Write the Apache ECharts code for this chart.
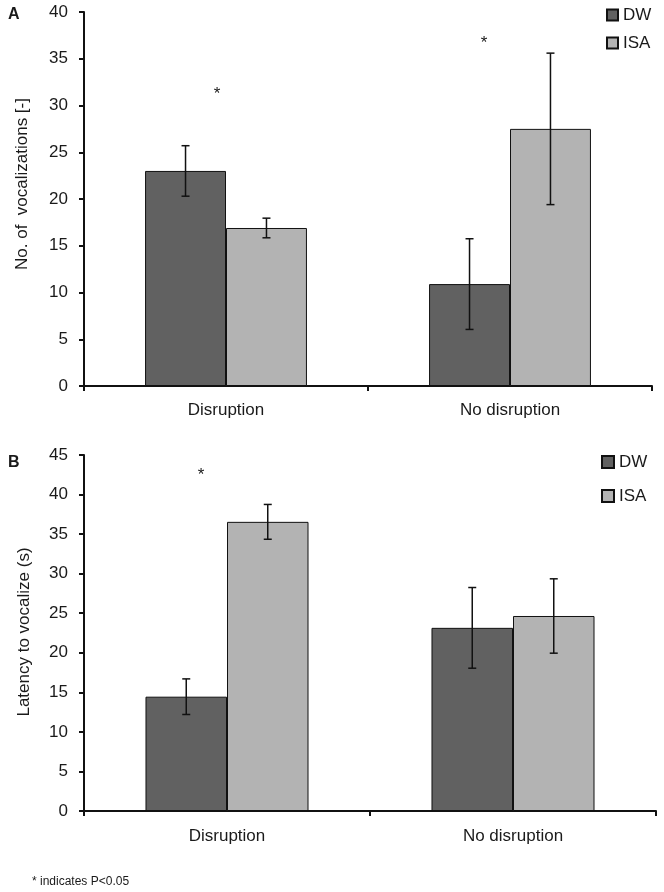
<!DOCTYPE html>
<html>
<head>
<meta charset="utf-8">
<script src="https://cdn.jsdelivr.net/npm/echarts@6/dist/echarts.min.js"></script>
<style>html,body{margin:0;padding:0;background:#fff;}#c{width:664px;height:892px;}</style>
</head>
<body>
<div id="c"></div>
<script>
// ---- data ----
var categories = ['Disruption', 'No disruption'];
var seriesNames = ['DW', 'ISA'];
// Panel A: No. of vocalizations
var vocDW = [23.0, 10.9];
var vocDWerr = [2.7, 4.85];
var vocISA = [16.9, 27.5];
var vocISAerr = [1.05, 8.1];
var vocSig = [[0, 31.2], [1, 36.6]];
var yTicksA = [0, 5, 10, 15, 20, 25, 30, 35, 40];
// Panel B: Latency to vocalize (s)
var latDW = [14.45, 23.15];
var latDWerr = [2.25, 5.1];
var latISA = [36.55, 24.65];
var latISAerr = [2.2, 4.7];
var latSig = [[0, 42.4]];
var yTicksB = [0, 5, 10, 15, 20, 25, 30, 35, 40, 45];

// ---- styles ----
var FONT = 'Liberation Sans, Arial, sans-serif';
var TXT = '#1a1a1a';
var DWC = '#616161', ISAC = '#b3b3b3';
var GAP = 0.43;
var sigDxA = [-9, -26], sigDxB = [-26];

var chart = echarts.init(document.getElementById('c'), null, {renderer: 'canvas'});

function errSeries(name, vals, errs, side, xi, yi) {
  var d = vals.map(function (v, i) { return [i, v - errs[i], v + errs[i]]; });
  return {
    type: 'custom', name: name + '_err', xAxisIndex: xi, yAxisIndex: yi, z: 5,
    data: d, silent: true, legendHoverLink: false,
    renderItem: function (params, api) {
      var band = api.size([1, 0])[0];
      var bw = band * (1 - GAP) / 2;
      var lo = api.coord([api.value(0), api.value(1)]);
      var hi = api.coord([api.value(0), api.value(2)]);
      var x = lo[0] + side * bw / 2;
      var cap = 4;
      var st = {stroke: '#111', lineWidth: 1.5};
      return {type: 'group', children: [
        {type: 'line', shape: {x1: x, y1: lo[1], x2: x, y2: hi[1]}, style: st},
        {type: 'line', shape: {x1: x - cap, y1: lo[1], x2: x + cap, y2: lo[1]}, style: st},
        {type: 'line', shape: {x1: x - cap, y1: hi[1], x2: x + cap, y2: hi[1]}, style: st}
      ]};
    }
  };
}
function sigSeries(d, dx, xi, yi) {
  return {
    type: 'custom', xAxisIndex: xi, yAxisIndex: yi, data: d, silent: true, z: 6,
    renderItem: function (params, api) {
      var p = api.coord([api.value(0), api.value(1)]);
      return {type: 'text', x: p[0] + dx[params.dataIndex], y: p[1],
        style: {text: '*', font: '17px ' + FONT, fill: TXT, align: 'center', verticalAlign: 'middle'}};
    }
  };
}
function barSeries(name, vals, color, xi, yi) {
  return {
    type: 'bar', name: name, xAxisIndex: xi, yAxisIndex: yi, data: vals,
    barGap: '0%', barCategoryGap: (GAP * 100) + '%',
    itemStyle: {color: color, borderColor: '#111', borderWidth: 1},
    emphasis: {disabled: true}
  };
}
function xAx(gi) {
  return {
    type: 'category', gridIndex: gi, data: categories, boundaryGap: true,
    axisLine: {lineStyle: {color: '#111', width: 2}},
    axisTick: {show: true, length: 5, lineStyle: {color: '#111', width: 2}},
    axisLabel: {color: TXT, fontSize: 17, fontFamily: FONT, margin: gi === 0 ? 16 : 17}
  };
}
function yAx(gi, ticks) {
  return {
    type: 'value', gridIndex: gi, min: ticks[0], max: ticks[ticks.length - 1], interval: ticks[1] - ticks[0],
    axisLine: {show: true, lineStyle: {color: '#111', width: 2}},
    axisTick: {show: true, length: 5, lineStyle: {color: '#111', width: 2}},
    splitLine: {show: false},
    axisLabel: {color: TXT, fontSize: 17, fontFamily: FONT, margin: 16}
  };
}

chart.setOption({
  backgroundColor: '#fff',
  animation: false,
  grid: [
    {left: 84, right: 12, top: 12, bottom: 506},
    {left: 84, right: 8, top: 455, bottom: 81}
  ],
  xAxis: [xAx(0), xAx(1)],
  yAxis: [yAx(0, yTicksA), yAx(1, yTicksB)],
  legend: [
    {data: seriesNames, orient: 'vertical', left: 601, top: 1.5, itemWidth: 11, itemHeight: 11, itemGap: 11,
     icon: 'rect', textStyle: {color: TXT, fontSize: 17, fontFamily: FONT}, selectedMode: false},
    {data: seriesNames, orient: 'vertical', left: 596, top: 448.5, itemWidth: 12, itemHeight: 12, itemGap: 17,
     icon: 'rect', textStyle: {color: TXT, fontSize: 17, fontFamily: FONT}, selectedMode: false}
  ],
  series: [
    barSeries('DW', vocDW, DWC, 0, 0),
    barSeries('ISA', vocISA, ISAC, 0, 0),
    barSeries('DW', latDW, DWC, 1, 1),
    barSeries('ISA', latISA, ISAC, 1, 1),
    errSeries('DW', vocDW, vocDWerr, -1, 0, 0),
    errSeries('ISA', vocISA, vocISAerr, 1, 0, 0),
    errSeries('DW', latDW, latDWerr, -1, 1, 1),
    errSeries('ISA', latISA, latISAerr, 1, 1, 1),
    sigSeries(vocSig, sigDxA, 0, 0),
    sigSeries(latSig, sigDxB, 1, 1)
  ],
  graphic: [
    {type: 'text', left: 8, top: 7, style: {text: 'A', font: 'bold 16px ' + FONT, fill: TXT}},
    {type: 'text', left: 8, top: 455, style: {text: 'B', font: 'bold 16px ' + FONT, fill: TXT}},
    {type: 'text', x: 22, y: 184, rotation: Math.PI / 2,
     style: {text: 'No. of  vocalizations [-]', font: '17px ' + FONT, fill: TXT, align: 'center', verticalAlign: 'middle'}},
    {type: 'text', x: 24.5, y: 632, rotation: Math.PI / 2,
     style: {text: 'Latency to vocalize (s)', font: '17px ' + FONT, fill: TXT, align: 'center', verticalAlign: 'middle'}},
    {type: 'text', x: 32, y: 882, style: {text: '* indicates P<0.05', font: '12px ' + FONT, fill: TXT, verticalAlign: 'middle'}}
  ]
});
</script>
</body>
</html>
